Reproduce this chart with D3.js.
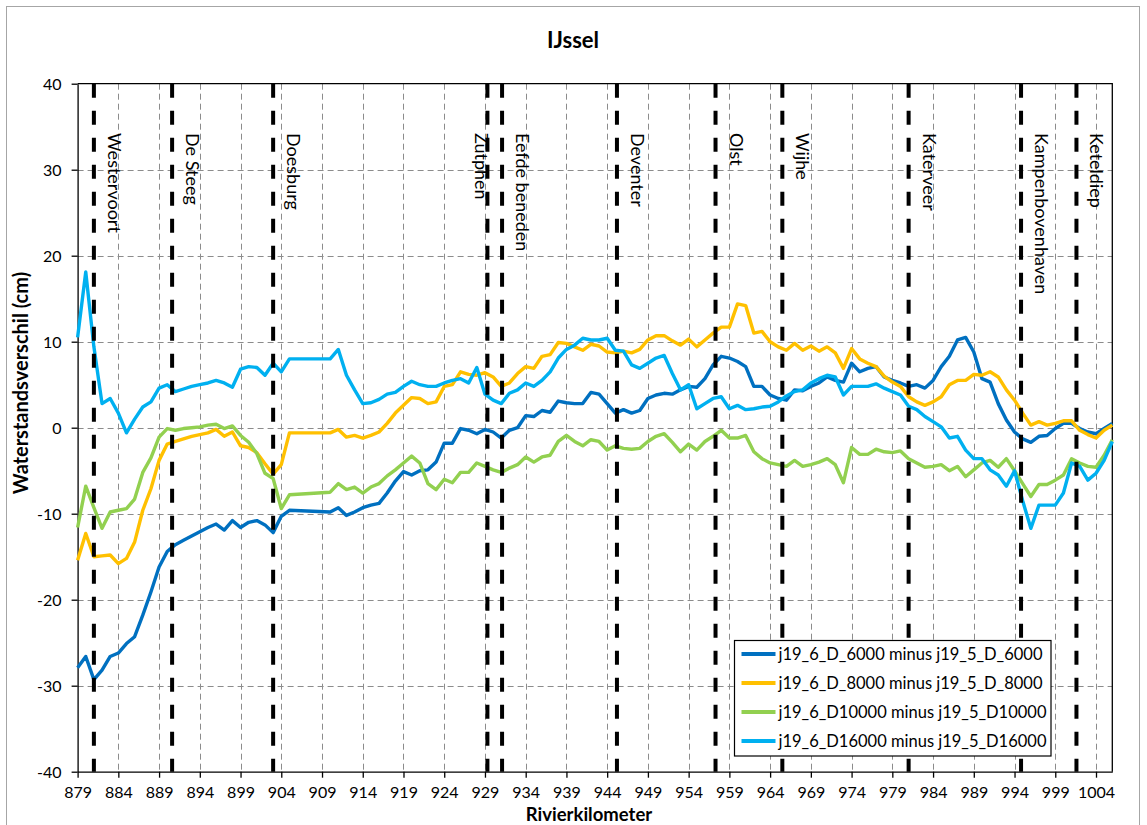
<!DOCTYPE html>
<html>
<head>
<meta charset="utf-8">
<script src="https://cdn.jsdelivr.net/npm/d3@7"></script>
<style>
  body { margin: 0; background: #fff; }
  svg { display: block; }
  text { font-family: Lato, "Open Sans", sans-serif; fill: #000; }
</style>
</head>
<body>
<svg id="chart" width="1147" height="825"></svg>
<script>
// River kilometre of each computed point (no points between 905 and 910)
const km = [
  879, 880, 881, 882, 883, 884, 885, 886, 887, 888,
  889, 890, 891, 892, 893, 894, 895, 896, 897, 898,
  899, 900, 901, 902, 903, 904, 905,
  910, 911, 912, 913, 914, 915, 916, 917, 918, 919,
  920, 921, 922, 923, 924, 925, 926, 927, 928, 929,
  930, 931, 932, 933, 934, 935, 936, 937, 938, 939,
  940, 941, 942, 943, 944, 945, 946, 947, 948, 949,
  950, 951, 952, 953, 954, 955, 956, 957, 958, 959,
  960, 961, 962, 963, 964, 965, 966, 967, 968, 969,
  970, 971, 972, 973, 974, 975, 976, 977, 978, 979,
  980, 981, 982, 983, 984, 985, 986, 987, 988, 989,
  990, 991, 992, 993, 994, 995, 996, 997, 998, 999,
  1000, 1001, 1002, 1003, 1004, 1005, 1006
];

// Water level differences (cm) per discharge
const diffD6000 = [
  -27.9, -26.6, -29.3, -28.2, -26.6, -26.2, -25.1, -24.3, -21.8, -19.1,
  -16.2, -14.4, -13.6, -13.1, -12.6, -12.1, -11.6, -11.2, -11.9, -10.8,
  -11.6, -11.0, -10.8, -11.3, -12.2, -10.3, -9.6,
  -9.8, -9.3, -10.2, -9.8, -9.3, -9.0, -8.8, -7.6, -6.2, -5.1,
  -5.5, -5.0, -4.9, -4.0, -1.8, -1.8, -0.1, -0.3, -0.7, -0.2,
  -0.5, -1.2, -0.3, 0.0, 1.4, 1.3, 2.0, 1.8, 3.1, 2.9,
  2.8, 2.8, 4.1, 3.9, 2.8, 1.7, 2.1, 1.7, 2.0, 3.4,
  3.8, 4.0, 3.9, 4.4, 4.8, 4.7, 5.7, 7.3, 8.3, 8.1,
  7.7, 7.1, 4.8, 4.8, 3.8, 3.4, 3.2, 4.4, 4.3, 4.8,
  5.2, 5.9, 5.5, 5.3, 7.5, 6.5, 6.9, 7.1, 5.9, 5.5,
  5.2, 4.8, 5.0, 4.6, 5.5, 7.1, 8.3, 10.2, 10.5, 8.8,
  5.7, 5.3, 2.8, 0.9, -0.5, -1.3, -1.7, -1.0, -0.9, -0.1,
  0.5, 0.5, -0.1, -0.5, -0.7, -0.1, 0.5
];
const diffD8000 = [
  -15.4, -12.3, -15.0, -14.9, -14.8, -15.8, -15.2, -13.3, -9.6, -7.1,
  -3.8, -1.9, -1.6, -1.3, -1.0, -0.8, -0.6, -0.2, -1.0, -0.5,
  -2.1, -2.3, -2.9, -4.2, -5.4, -4.3, -0.6,
  -0.6, -0.2, -1.1, -0.9, -1.2, -0.9, -0.5, 0.5, 1.7, 2.6,
  3.5, 3.4, 2.8, 3.0, 4.8, 5.0, 6.5, 6.2, 6.1, 6.4,
  5.9, 4.8, 5.2, 6.3, 7.1, 6.9, 8.3, 8.5, 9.9, 9.8,
  9.4, 9.0, 9.7, 9.5, 8.8, 8.7, 8.9, 8.7, 9.1, 10.2,
  10.7, 10.7, 10.1, 9.6, 10.3, 9.4, 10.2, 11.0, 11.7, 11.7,
  14.4, 14.2, 11.0, 11.2, 10.0, 9.4, 9.0, 9.8, 9.0, 9.5,
  8.9, 9.4, 8.7, 6.9, 9.2, 8.0, 7.5, 7.1, 6.0, 5.3,
  4.8, 3.6, 3.0, 2.6, 3.0, 3.6, 5.0, 5.5, 5.5, 6.2,
  6.1, 6.5, 5.9, 4.4, 3.2, 1.7, 0.3, 0.7, 0.3, 0.5,
  0.8, 0.8, -0.3, -0.8, -1.2, -0.3, 0.3
];
const diffD10000 = [
  -11.6, -6.8, -9.3, -11.7, -9.8, -9.6, -9.4, -8.3, -5.2, -3.5,
  -1.1, -0.1, -0.3, -0.1, 0.0, 0.1, 0.3, 0.4, -0.1, 0.2,
  -0.9, -1.7, -3.0, -5.3, -5.9, -9.4, -7.8,
  -7.5, -6.5, -7.2, -6.9, -7.6, -6.9, -6.5, -5.6, -4.9, -4.1,
  -3.3, -4.1, -6.5, -7.2, -6.0, -6.4, -5.2, -5.2, -4.1, -4.5,
  -4.9, -5.2, -4.7, -4.3, -3.4, -4.0, -3.4, -3.2, -1.6, -0.9,
  -1.6, -2.1, -1.4, -1.6, -2.6, -2.1, -2.4, -2.5, -2.4, -1.6,
  -1.0, -0.7, -1.7, -2.8, -1.9, -2.6, -1.6, -1.0, -0.3, -1.2,
  -1.2, -0.9, -2.8, -3.6, -4.1, -4.3, -4.5, -3.8, -4.5, -4.3,
  -4.0, -3.6, -4.3, -6.4, -2.3, -3.1, -3.1, -2.5, -2.8, -2.9,
  -2.7, -3.6, -4.1, -4.6, -4.5, -4.3, -5.0, -4.5, -5.7, -4.9,
  -4.1, -3.8, -4.6, -3.6, -5.0, -6.5, -8.0, -6.6, -6.6, -6.1,
  -5.5, -3.6, -4.1, -4.5, -4.6, -3.2, -1.4
];
const diffD16000 = [
  10.5, 18.1, 9.4, 2.8, 3.4, 1.7, -0.6, 1.0, 2.4, 3.0,
  4.6, 5.0, 4.2, 4.5, 4.8, 5.0, 5.2, 5.5, 5.2, 4.7,
  6.8, 7.1, 7.0, 6.1, 7.5, 6.5, 8.0,
  8.0, 9.1, 6.1, 4.4, 2.8, 2.9, 3.3, 3.9, 4.1, 4.8,
  5.4, 5.0, 4.8, 4.8, 5.2, 5.5, 5.7, 5.2, 7.0, 3.9,
  3.2, 2.8, 4.0, 4.4, 5.2, 4.8, 5.5, 6.5, 8.1, 9.1,
  9.6, 10.4, 10.2, 10.2, 10.4, 9.0, 8.9, 7.3, 6.9, 7.5,
  8.1, 8.4, 6.3, 4.4, 5.0, 2.2, 2.8, 3.4, 3.6, 2.2,
  2.6, 2.1, 2.2, 2.4, 2.5, 3.0, 3.7, 4.2, 4.4, 5.2,
  5.7, 6.1, 5.9, 3.8, 4.8, 4.8, 4.8, 5.1, 4.6, 4.2,
  3.8, 2.5, 2.1, 1.3, 0.7, 0.1, -1.2, -1.0, -2.6, -3.6,
  -3.6, -4.9, -5.5, -6.8, -5.0, -8.5, -11.7, -9.0, -9.0, -9.0,
  -7.6, -4.1, -4.5, -6.1, -5.3, -3.8, -1.6
];

const seriesNames = [
  "j19_6_D_6000 minus j19_5_D_6000",
  "j19_6_D_8000 minus j19_5_D_8000",
  "j19_6_D10000 minus j19_5_D10000",
  "j19_6_D16000 minus j19_5_D16000"
];
const seriesColors = ["#0070C0", "#FFC000", "#92D050", "#00B0F0"];
const seriesValues = [diffD6000, diffD8000, diffD10000, diffD16000];

// Reference locations along the river
const locationNames = ["Westervoort", "De Steeg", "Doesburg", "Zutphen", "Eefde beneden",
  "Deventer", "Olst", "Wijhe", "Katerveer", "Kampenbovenhaven", "Keteldiep"];
const locationKm = [881.0, 890.6, 903.0, 929.3, 931.1, 945.2, 957.3, 965.5, 981.0, 994.8, 1001.6];

const xTicks = [879, 884, 889, 894, 899, 904, 909, 914, 919, 924, 929, 934, 939, 944,
  949, 954, 959, 964, 969, 974, 979, 984, 989, 994, 999, 1004];
const yTicks = [-40, -30, -20, -10, 0, 10, 20, 30, 40];

const svg = d3.select("#chart");
const plot = { left: 77.6, right: 1112.3, top: 83.7, bottom: 771.7 };

const x = d3.scaleLinear().domain([879, 1006]).range([plot.left, plot.right]);
const y = d3.scaleLinear().domain([-40, 40]).range([plot.bottom, plot.top]);

// outer chart border
svg.append("rect")
  .attr("x", 6.5).attr("y", 6.5).attr("width", 1133).attr("height", 830)
  .attr("fill", "#fff").attr("stroke", "#a6a6a6").attr("stroke-width", 1);

// title
svg.append("text")
  .attr("x", 573).attr("y", 48)
  .attr("text-anchor", "middle")
  .style("font-size", "22px").style("font-weight", "bold")
  .text("IJssel");

// gridlines
const grid = svg.append("g").attr("stroke", "#8c8c8c").attr("stroke-width", 1)
  .attr("stroke-dasharray", "6,4").attr("fill", "none");
grid.selectAll(".gy").data(yTicks.filter(v => v > -40 && v < 40)).join("line")
  .attr("x1", plot.left).attr("x2", plot.right)
  .attr("y1", d => Math.round(y(d)) + 0.5).attr("y2", d => Math.round(y(d)) + 0.5);
grid.selectAll(".gx").data(xTicks.filter(v => v > 879)).join("line")
  .attr("y1", plot.top).attr("y2", plot.bottom)
  .attr("x1", d => Math.round(x(d)) + 0.5).attr("x2", d => Math.round(x(d)) + 0.5);

// plot frame (top and right)
svg.append("path")
  .attr("d", `M${plot.left},${plot.top}H${plot.right}V${plot.bottom}`)
  .attr("fill", "none").attr("stroke", "#000").attr("stroke-width", 1.3);

// axes
const xAxis = d3.axisBottom(x).tickValues(xTicks).tickSize(6).tickSizeOuter(0)
  .tickFormat(d => String(d));
const yAxis = d3.axisLeft(y).tickValues(yTicks).tickSize(6).tickSizeOuter(0)
  .tickFormat(d => String(d));

const gx = svg.append("g").attr("transform", `translate(0,${plot.bottom})`).call(xAxis);
const gy = svg.append("g").attr("transform", `translate(${plot.left},0)`).call(yAxis);
[gx, gy].forEach(g => {
  g.select(".domain").attr("stroke", "#000").attr("stroke-width", 1.3);
  g.selectAll(".tick line").attr("stroke", "#000").attr("stroke-width", 1.3);
  g.selectAll(".tick text").style("font-size", "16px").style("font-family", "Lato, 'Open Sans', sans-serif").attr("fill", "#000");
});
gx.selectAll(".tick text").attr("dy", "0").attr("y", 26.5);
gy.selectAll(".tick text").attr("x", -16).attr("dy", "0.35em");

// series lines
const line = d3.line()
  .x((d, i) => x(km[i]))
  .y(d => y(d));

svg.append("g").selectAll("path").data(seriesValues).join("path")
  .attr("d", d => line(d))
  .attr("fill", "none")
  .attr("stroke", (d, i) => seriesColors[i])
  .attr("stroke-width", 3.4)
  .attr("stroke-linejoin", "round");

// reference location markers
const loc = svg.append("g");
loc.selectAll("line").data(locationKm).join("line")
  .attr("x1", d => x(d)).attr("x2", d => x(d))
  .attr("y1", plot.top).attr("y2", plot.bottom)
  .attr("stroke", "#000").attr("stroke-width", 4)
  .attr("stroke-dasharray", "14,13");

loc.selectAll("text").data(locationNames).join("text")
  .attr("transform", (d, i) => {
    const next = locationKm[i + 1];
    const leftSide = next !== undefined && next - locationKm[i] < 3;
    const lx = x(locationKm[i]) + (leftSide ? -12 : 14);
    return `translate(${lx},133) rotate(90)`;
  })
  .style("font-size", "18px")
  .text(d => d);

// axis titles
svg.append("text")
  .attr("transform", "translate(28,383) rotate(-90)")
  .attr("text-anchor", "middle")
  .style("font-size", "20px").style("font-weight", "bold")
  .text("Waterstandsverschil (cm)");

svg.append("text")
  .attr("x", 589).attr("y", 821)
  .attr("text-anchor", "middle")
  .style("font-size", "18.5px").style("font-weight", "bold")
  .text("Rivierkilometer");

// legend
const legend = svg.append("g").attr("transform", "translate(734.5,640.5)");
legend.append("rect")
  .attr("width", 316.5).attr("height", 115.5)
  .attr("fill", "#fff").attr("stroke", "#000").attr("stroke-width", 1.2);
const items = legend.selectAll(".item").data(seriesNames).join("g")
  .attr("transform", (d, i) => `translate(0,${13.5 + i * 29})`);
items.append("line")
  .attr("x1", 7).attr("x2", 41)
  .attr("stroke", (d, i) => seriesColors[i])
  .attr("stroke-width", 4);
items.append("text")
  .attr("x", 44).attr("dy", "0.35em")
  .style("font-size", "16.5px")
  .text(d => d);
</script>
</body>
</html>
